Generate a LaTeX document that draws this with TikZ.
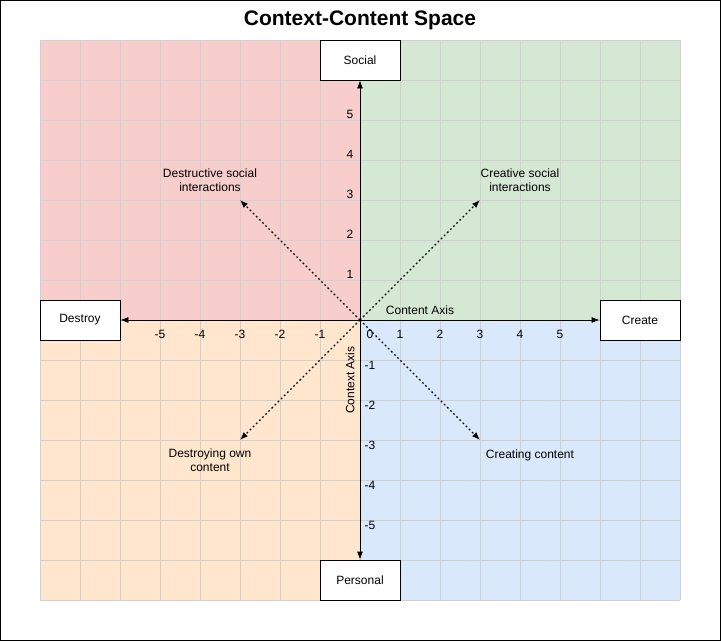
\documentclass[tikz,border=0pt]{standalone}
\usepackage{fontspec}
\setmainfont{Liberation Sans}
\usetikzlibrary{arrows.meta}
\definecolor{qred}{HTML}{F8CECC}
\definecolor{qgreen}{HTML}{D5E8D4}
\definecolor{qorange}{HTML}{FFE6CC}
\definecolor{qblue}{HTML}{DAE8FC}
\definecolor{gridgray}{HTML}{D0D0D0}
\tikzset{
  endbox/.style={draw=black, fill=white, minimum width=80pt, minimum height=40pt, inner sep=0pt, font=\fontsize{12}{14}\selectfont, line width=0.8pt},
  lbl/.style={font=\fontsize{12}{14}\selectfont, inner sep=0pt, align=center},
  gridline/.style={draw=gridgray, line width=0.8pt},
  axis/.style={draw=black, line width=0.8pt, {Latex[length=8pt,width=6pt]}-{Latex[length=8pt,width=6pt]}},
  diag/.style={draw=black, line width=1.2pt, dash pattern=on 1.8pt off 2.6pt, -{Latex[length=8pt,width=6pt]}}
}
\begin{document}
\begin{tikzpicture}[x=1pt,y=-1pt]
\useasboundingbox (0,0) rectangle (721,641);
\draw[line width=1pt] (0.5,0.5) rectangle (720.5,640.5);
\node[font=\bfseries\fontsize{21}{24}\selectfont] (title) at (360,20) {Context-Content Space};
% quadrants
\fill[qred] (40,40) rectangle (360,320);
\fill[qgreen] (360,40) rectangle (680,320);
\fill[qorange] (40,320) rectangle (360,600);
\fill[qblue] (360,320) rectangle (680,600);
% grid
\foreach \gx in {40,80,...,680} \draw[gridline] (\gx,40) -- (\gx,600);
\foreach \gy in {40,80,...,600} \draw[gridline] (40,\gy) -- (680,\gy);
% boxes
\node[endbox] (social) at (360,60) {Social};
\node[endbox] (personal) at (360,580) {Personal};
\node[endbox] (destroy) at (80,320) {Destroy};
\node[endbox] (create) at (640,320) {Create};
% axes
\draw[axis] (destroy.east) -- (create.west);
\draw[axis] (personal.north) -- (social.south);
% axis labels
\node[lbl] (contentaxis) at (420,310) {Content Axis};
\node[lbl, rotate=90] (contextaxis) at (350,380) {Context Axis};
% x ticks
\foreach \v/\px in {-5/160,-4/200,-3/240,-2/280,-1/320,1/400,2/440,3/480,4/520,5/560}
  \node[lbl] (xt\px) at (\px,334) {\v};
\node[lbl] (xt0) at (370,334) {0};
% y ticks
\foreach \v/\py in {5/114,4/154,3/194,2/234,1/274}
  \node[lbl] (yt\py) at (350,\py) {\v};
\foreach \v/\py in {-1/365,-2/405,-3/445,-4/485,-5/525}
  \node[lbl] (yt\py) at (370,\py) {\v};
% diagonals
\coordinate (o) at (360,320);
\coordinate (ul) at (240,200);
\coordinate (ur) at (480,200);
\coordinate (ll) at (240,440);
\coordinate (lr) at (480,440);
\draw[diag] (o) -- (ul);
\draw[diag] (o) -- (ur);
\draw[diag] (o) -- (ll);
\draw[diag] (o) -- (lr);
\node[lbl] (tul) at (210,180) {Destructive social\\interactions};
\node[lbl] (tur) at (520,180) {Creative social\\interactions};
\node[lbl] (tll) at (210,460) {Destroying own\\content};
\node[lbl] (tlr) at (530,455) {Creating content};
\end{tikzpicture}
\end{document}
